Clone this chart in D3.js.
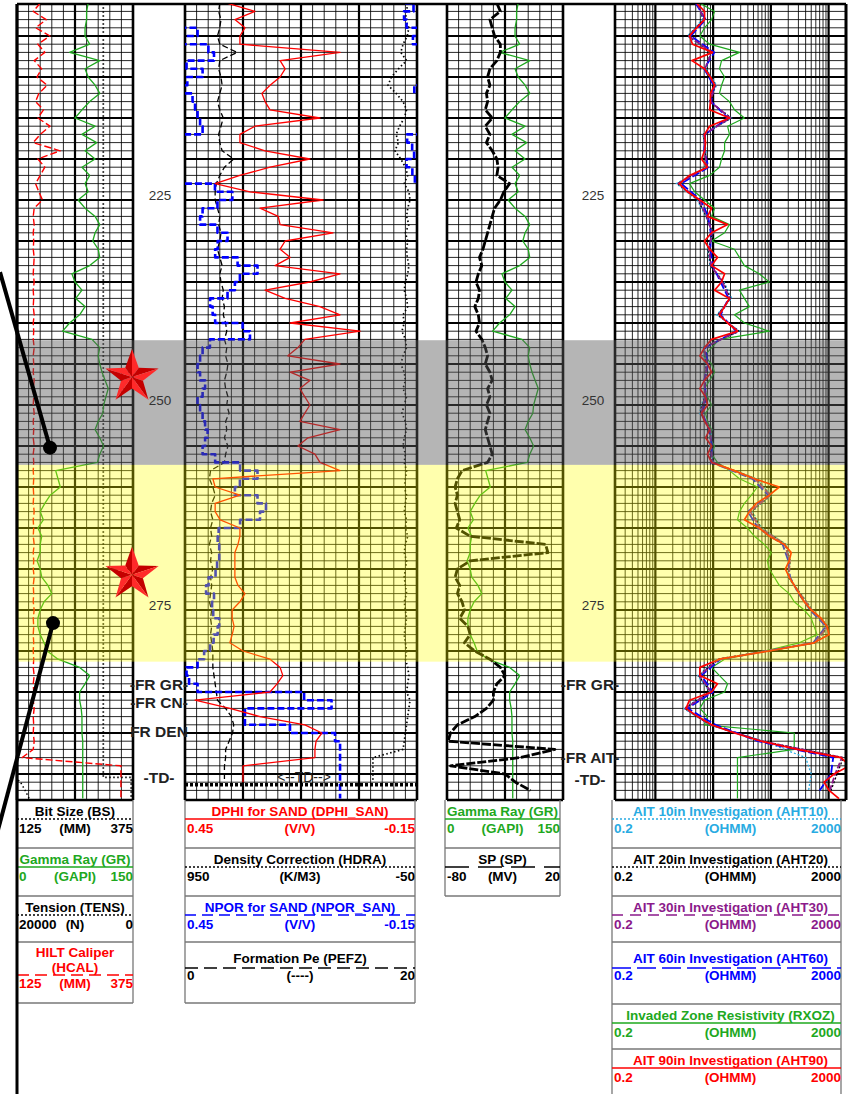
<!DOCTYPE html>
<html><head><meta charset="utf-8">
<script src="https://cdn.jsdelivr.net/npm/d3@7/dist/d3.min.js"></script>
<style>html,body{margin:0;padding:0;background:#fff;}svg{display:block;font-family:"Liberation Sans",Arial,sans-serif;}</style>
</head><body>
<svg id="chart" width="848" height="1094"></svg>
<script>
// ---------------- DATA ----------------
const depths=[201,202,203,204,205,206,207,208,209,210,211,212,213,214,215,216,217,218,219,220,221,222,223,224,225,226,227,228,229,230,231,232,233,234,235,236,237,238,239,240,241,242,243,244,245,246,247,248,249,250,251,252,253,254,255,256,257,258,259,260,261,262,263,264,265,266,267,268,269,270,271,272,273,274,275,276,277,278,279,280,281,282,283,284,285,286,287,288,289,290,291,292,293,294,295,296,297,298];
const depths2=[201,203,205,207,209,211,213,215,217,219,221,223,225,227,229,231,233,235,237,239,241,243,245,247,249,251,253,255,257,259,261,263,265,267,269,271,273,275,277,279,281,283,285,287,289,291,293,295,297];
const GR=[92,90,90,88,88,94,68,107,88,92, 101,107,94,84,75,101,84,103,88,101, 84,94,88,92,79,88,101,107,101,98, 105,107,94,71,75,84,76,88,81,68, 59,97,107,105,107,110,114,118,115,112, 111,105,101,107,112,107,104,50,53,56, 43,36,30,34,27,32,30,30,26,30, 32,40,45,35,30,27,27,30,35,39, 53,81,94,88,81,81,83,84,84,84, 85,85,85,85,85,85,85,85];
const DPHI_SAN=[.341,.269,.321,.295,.308,.308,.049,.204,.191,.204, .230,.251,.243,.230,.101,.269,.308,.308,.243,.127, .230,.308,.372,.282,.093,.256,.209,.204,.067,.191, .204,.178,.217,.049,.127,.243,.191,.101,.049,.178, -.003,.140,.158,.184,.049,.178,.127,.153,.140,.127, .140,.153,.049,.132,.158,.114,.101,.049,.378,.372, .308,.372,.372,.359,.308,.308,.313,.321,.321,.321, .321,.313,.295,.308,.328,.328,.323,.328,.334,.300, .230,.204,.197,.212,.230,.424,.334,.256,.140,.096, .111,.114,.114,.300,.300,.300,null,null];
const NPOR_SAN=[.481,.437,.530,.424,.411,.510,.269,.481,.411,.398, .490,.424,.437,.411,.424,.398,.411,.540,.385,.530, .424,.500,.411,.334,.321,.411,.398,.424,.308,.372, .359,.385,.243,.282,.334,.308,.372,.398,.359,.385, .217,.347,.424,.385,.437,.398,.424,.372,.437,.398, .424,.385,.411,.372,.424,.385,.359,.256,.269,.347, .295,.230,.251,.261,.354,.372,.359,.364,.359,.375, .367,.411,.380,.370,.390,.364,.359,.372,.380,.390, .411,.424,.468,.411,.424,-.140,.282,.308,.282,.075, .049,.049,.049,.049,.049,.049,.049,.049];
const PEFZ=[3.0,2.9,3.1,3.0,2.8,3.0,4.5,3.0,2.9,3.1, 3.2,3.0,2.8,3.0,3.3,3.1,2.9,3.0,3.2,4.2, 3.4,3.0,2.7,2.6,2.6,2.8,3.0,2.9,3.1,3.0, 2.8,3.0,3.2,3.0,3.1,3.3,3.2,3.4,3.3,3.5, 3.6,3.4,3.6,3.5,3.7,3.6,3.4,3.5,3.7,3.6, 3.8,3.5,3.6,3.4,3.7,3.5,3.4,2.2,2.1,2.4, 2.6,2.3,2.2,2.4,2.2,2.3,2.1,2.3,2.2,2.4, 2.2,2.3,2.2,2.1,2.3,2.2,2.3,2.2,2.3,2.4, 2.4,2.4,2.5,2.6,2.7,2.8,3.5,4.0,4.2,4.1, 3.8,3.5,3.5,3.4,3.4,3.4,null,null];
const HDRA=[-10,-5,0,-15,-8,10,20,-5,30,60, 75,40,10,-5,5,25,40,30,45,20, 0,-10,5,-15,-20,-10,-5,-15,0,-10, -5,-8,-15,-10,0,5,-5,-10,10,5, 15,0,-5,10,20,5,0,10,-5,5, 15,0,-5,5,10,0,5,-5,0,5, -5,0,5,-5,0,-10,0,5,-5,0, 5,0,-5,5,0,-5,0,5,0,-5, 0,-10,-15,-10,-5,-20,-15,-10,-5,0, 5,10,140,140,140,140,null,null];
const SP=[-37,-34,-43,-41,-39,-34,-34,-37,-43,-45, -43,-46,-45,-47,-41,-47,-43,-46,-41,-37, -36,-37,-26,-31,-34,-39,-41,-43,-45,-47, -49,-52,-50,-53,-55,-52,-53,-56,-53,-52, -55,-50,-47,-45,-47,-43,-41,-45,-43,-46, -43,-45,-47,-45,-43,-41,-45,-67,-71,-73, -71,-73,-71,-69,-72,-60,5,7,-60,-71, -73,-69,-71,-67,-65,-69,-62,-60,-65,-56, -43,-34,-30,-37,-40,-40,-46,-56,-71,-77, -79,13,-17,-77,-30,-21,-8,null];
const HCAL=[175,160,188,165,196,170,185,162,178,168, 190,172,165,182,170,196,175,160,218,170, 185,175,165,172,180,162,160,162,160,161, 160,162,161,160,162,160,161,160,162,160, 161,160,162,160,161,160,162,160,161,160, 162,160,161,160,162,160,161,160,161,160, 161,160,162,160,161,160,162,160,161,160, 162,160,161,160,162,160,161,160,161,160, 161,160,162,160,161,160,162,160,161,160, 162,160,136,349,349,349,349,349];
const bsDepth=[201,295.4,295.4,298.2];
const BS=[311,311,371,371];
const tensDepth=[201,295,296,297,298];
const TENS=[21000,21000,19400,18600,17900];
const AHT90=[5.2,7.1,7.1,5.2,3.9,4.4,9.8,4.3,7.1,9.0, 10.6,9.0,9.0,8.7,19.2,8.7,7.1,7.4,7.1,6.3, 8.0,3.9,2.6,3.6,5.9,9.4,8.0,17.8,9.4,7.1, 8.7,11.9,9.4,15.8,14.0,10.6,19.2,15.8,12.9,17.8, 26.4,9.4,7.1,5.9,8.0,9.4,7.1,5.9,7.4,8.0, 6.3,7.1,8.7,7.4,9.4,8.0,9.4,23.4,51.9,140, 94,56,42.5,34.8,63,94,171,225,208,178, 208,254,310,378,499,741,940,1019,561,94, 12.9,5.9,5.9,11.9,9.4,3.9,3.4,5.4,9.4,23.4, 68,286,1641,2300,1242,836,1019,1514];
const RXOZ=[5.9,10.6,9.4,7.1,5.9,8.7,28.6,14,12.9,15.8, 14,12.9,19.2,23.4,34.8,17.8,19.2,15.8,15.8,14, 12.9,8.7,3.9,4.8,7.1,10.6,9.4,19.2,15.8,9.4, 23.4,28.6,34.8,63,94,28.6,34.8,42.5,23.4,34.8, 94,12.9,9.4,7.1,9.4,10.6,8.7,7.1,8.0,9.4, 7.4,8.0,9.4,8.7,10.6,9.4,11.9,19.2,28.6,58.5, 46,34.8,28.6,26.4,39.3,51.9,77,102,87,94, 115,140,208,254,378,499,561,632,310,77, 15.8,9.4,12.9,17.8,15.8,7.1,5.9,8.0,7.1,254, 254,254,26.4,26.4,26.4,26.4,26.4,26.4];
const AHT60=[5.0,7.4,4.1,10.5,7.0,10.2,9.3,18,7.3,7.0, 8.3,2.8,6.1,8.2,9.1,9.0,9.8,13.5,18.5,13.5, 25,7.3,8.2,7.0,7.6,6.5,8.5,9.6,9.2,48, 90,40,60,160,200,215,300,480,900,540, 13.5,6.2,10,3.6,11,60,1200,1100,700];
const AHT30=[5.3,7.0,3.8,9.5,7.2,10.8,8.9,19.8,7.0,7.2, 7.8,2.5,5.7,7.8,9.6,8.5,9.2,14.5,19.5,12.5, 27,7.0,7.8,7.2,7.3,6.2,8.9,9.2,9.6,53, 98,44,65,175,212,205,318,510,960,575, 12.5,5.8,9.2,3.3,9.0,70,1700,1300,1050];
const AHT20=[5.4,6.8,3.7,9.2,7.4,11,8.7,20.5,6.8,7.4, 7.6,2.4,5.5,7.6,9.8,8.3,9.0,15,20,12, 28,6.8,7.6,7.4,7.1,6.0,9.2,9.0,9.8,55, 100,46,68,180,215,200,325,520,980,590, 12,5.6,9,3.2,8.8,72,1800,1400,1100];
const AHT10=[5.6,6.5,3.6,9.0,7.6,11.5,8.5,21,6.6,7.6, 7.4,2.3,5.3,7.4,10,8.1,8.8,15.5,21,11.5, 29,6.6,7.4,7.6,6.9,5.8,9.5,8.8,10,57, 105,48,70,185,218,195,330,530,1000,600, 11.5,5.4,8.8,3.1,8.6,75,400,500,450];
const depthLabels=[225,250,275];
const zoneTop=[242.1,257.3], zoneBottom=[257.3,281.3];
const leftMarkers=['-FR GR-','-FR CN-','FR DEN','-TD-'], leftMarkerDepth=[284.76,286.95,290.49,296.1];
const rightMarkers=['-FR GR-','-FR AIT-','-TD-'], rightMarkerDepth=[284.76,293.66,296.34];
const tdLineDepth=296.3;
const starDepth=[246.6,270.7];
const pinDepth=[255.2,276.6], pinTailDepth=[233.8,302.3];
// legend (header) content
const legTitle=[['Bit Size (BS)'],['Gamma Ray (GR)'],['Tension (TENS)'],['HILT Caliper','(HCAL)'],
 ['DPHI for SAND (DPHI_SAN)'],['Density Correction (HDRA)'],['NPOR for SAND (NPOR_SAN)'],['Formation Pe (PEFZ)'],
 ['Gamma Ray (GR)'],['SP (SP)'],
 ['AIT 10in Investigation (AHT10)'],['AIT 20in Investigation (AHT20)'],['AIT 30in Investigation (AHT30)'],['AIT 60in Investigation (AHT60)'],['Invaded Zone Resistivity (RXOZ)'],['AIT 90in Investigation (AHT90)']];
const legUnit=['(MM)','(GAPI)','(N)','(MM)','(V/V)','(K/M3)','(V/V)','(----)','(GAPI)','(MV)','(OHMM)','(OHMM)','(OHMM)','(OHMM)','(OHMM)','(OHMM)'];
const legLo=['125','0','20000','125','0.45','950','0.45','0','0','-80','0.2','0.2','0.2','0.2','0.2','0.2'];
const legHi=['375','150','0','375','-0.15','-50','-0.15','20','150','20','2000','2000','2000','2000','2000','2000'];
const legTrack=[0,0,0,0,1,1,1,1,2,2,3,3,3,3,3,3];

// ---------------- LAYOUT / STYLE ----------------
const C={green:'#1ea81e',red:'#ff0000',blue:'#0000ff',lblue:'#29abe2',purple:'#8b1a8b',black:'#000'};
const legStyle=[[C.black,'2,2'],[C.green,null],[C.black,'2,2'],[C.red,'12,6'],[C.red,null],[C.black,'2,2'],[C.blue,'11,6'],[C.black,'13,6'],
 [C.green,null],[C.black,'24,9'],[C.lblue,'2,2'],[C.black,'2,2'],[C.purple,'11,7'],[C.blue,'19,6'],[C.green,null],[C.red,null]];
const svg=d3.select('#chart');
const yS=d3.scaleLinear().domain([225,275]).range([200,610]);
const TOP=4,BOT=800;
const T=[[17,133],[185,417],[447,563],[615,846]];
const sGR1=d3.scaleLinear().domain([0,150]).range(T[0]);
const sMM=d3.scaleLinear().domain([125,375]).range(T[0]);
const sTENS=d3.scaleLinear().domain([20000,0]).range(T[0]);
const sPor=d3.scaleLinear().domain([0.45,-0.15]).range(T[1]);
const sHDRA=d3.scaleLinear().domain([950,-50]).range(T[1]);
const sPE=d3.scaleLinear().domain([0,20]).range(T[1]);
const sGR3=d3.scaleLinear().domain([0,150]).range(T[2]);
const sSP=d3.scaleLinear().domain([-80,20]).range(T[2]);
const sRes=d3.scaleLog().domain([0.2,2000]).range(T[3]);

const defs=svg.append('defs');
T.forEach((t,i)=>defs.append('clipPath').attr('id','clip'+i).append('rect').attr('x',t[0]).attr('y',TOP).attr('width',t[1]-t[0]).attr('height',BOT-TOP));

// grid
const grid=svg.append('g');
function vline(x,w){grid.append('line').attr('x1',x).attr('x2',x).attr('y1',TOP).attr('y2',BOT).attr('stroke','#000').attr('stroke-width',w);}
function linGrid(t,n,maj){for(let i=0;i<=n;i++){const x=t[0]+(t[1]-t[0])*i/n;vline(x,(i===0||i===n)?2.6:(i%maj===0?2.2:0.85));}}
const gridDepths=d3.range(202,298);
function hGrid(t){gridDepths.forEach(d=>{grid.append('line').attr('x1',t[0]).attr('x2',t[1]).attr('y1',yS(d)).attr('y2',yS(d)).attr('stroke','#000').attr('stroke-width',d%5===0?2.2:0.85);});}
T.forEach(hGrid);
linGrid(T[0],10,5);linGrid(T[1],20,5);linGrid(T[2],10,5);
const logTicks=[];for(let e=-1;e<=3;e++)for(let m=1;m<=9;m++){const v=m*Math.pow(10,e);if(v>0.199&&v<2001)logTicks.push([v,m]);}
logTicks.forEach(([v,m])=>{const edge=(Math.abs(v-0.2)<1e-6||Math.abs(v-2000)<1e-6);vline(sRes(v),edge?2.6:(m===1?2.2:0.85));});
grid.append('line').attr('x1',17).attr('x2',846).attr('y1',TOP).attr('y2',TOP).attr('stroke','#000').attr('stroke-width',2.6);
T.forEach(t=>grid.append('line').attr('x1',t[0]).attr('x2',t[1]).attr('y1',BOT).attr('y2',BOT).attr('stroke','#000').attr('stroke-width',2.6));

// curves
function curve(ti,dArr,vals,fx,color,w,dash,cv){
  const g=svg.append('g').attr('clip-path','url(#clip'+ti+')');
  const line=d3.line().defined((d,i)=>vals[i]!=null).x((d,i)=>fx(vals[i])).y(d=>yS(d)).curve(cv||d3.curveLinear);
  g.append('path').datum(dArr).attr('d',line).attr('fill','none').attr('stroke',color).attr('stroke-width',w).attr('stroke-dasharray',dash||null).attr('stroke-linejoin','round');
}
// track 1
curve(0,tensDepth,TENS,sTENS,C.black,1.5,'1.5,2.5');
curve(0,bsDepth,BS,sMM,C.black,1.7,'1.5,2.5');
curve(0,depths,HCAL,sMM,C.red,1.4,'7,3');
curve(0,depths,GR,sGR1,C.green,1.3);
// track 2
curve(1,depths,HDRA,sHDRA,C.black,1.7,'1.5,2.5');
curve(1,depths,PEFZ,sPE,C.black,1.3,'6,3');
curve(1,depths,NPOR_SAN,sPor,C.blue,2.6,'7,3',d3.curveStep);
curve(1,depths,NPOR_SAN,v=>sPor(v-0.6),C.blue,2.6,'7,3',d3.curveStep);
curve(1,depths,DPHI_SAN,sPor,C.red,1.3);
// track 3
curve(2,depths,GR,sGR3,C.green,1.3);
curve(2,depths,SP,sSP,C.black,2.8,'9,2');
// track 4
curve(3,depths2,AHT10,sRes,C.lblue,1.3,'2,2');
curve(3,depths2,AHT20,sRes,C.black,1.3,'2,2');
curve(3,depths,RXOZ,sRes,C.green,1.2);
curve(3,depths2,AHT60,sRes,C.blue,1.8,'8,3');
curve(3,depths2,AHT30,sRes,C.purple,1.8,'6,2');
curve(3,depths,AHT90,sRes,C.red,1.7);

// TD line & text
svg.append('line').attr('x1',T[1][0]).attr('x2',T[1][1]).attr('y1',yS(tdLineDepth)).attr('y2',yS(tdLineDepth)).attr('stroke','#000').attr('stroke-width',3.5).attr('stroke-dasharray','3,2');
svg.append('text').attr('x',304).attr('y',yS(tdLineDepth)-3).attr('text-anchor','middle').attr('font-size',14).attr('fill','#222').text('<--TD-->');

// zones
const zoneFill=['rgba(90,90,90,0.45)','rgba(255,255,0,0.32)'];
zoneTop.forEach((d,i)=>svg.append('rect').attr('x',17).attr('y',yS(d)).attr('width',846-17).attr('height',yS(zoneBottom[i])-yS(d)).attr('fill',zoneFill[i]));

// depth labels
depthLabels.forEach(d=>{[160,593].forEach(x=>svg.append('text').attr('x',x).attr('y',yS(d)-0.5).attr('text-anchor','middle').attr('font-size',13.5).attr('fill','#333').text(d));});
leftMarkers.forEach((t,i)=>svg.append('text').attr('x',159).attr('y',yS(leftMarkerDepth[i])).attr('text-anchor','middle').attr('font-size',15.5).attr('font-weight','bold').attr('fill','#222').text(t));
rightMarkers.forEach((t,i)=>svg.append('text').attr('x',590).attr('y',yS(rightMarkerDepth[i])).attr('text-anchor','middle').attr('font-size',15.5).attr('font-weight','bold').attr('fill','#222').text(t));

// stars
function star(cx,cy,R,r){
  const g=svg.append('g');
  for(let k=0;k<5;k++){
    const a0=(-90+72*k)*Math.PI/180,a1=a0+36*Math.PI/180,a2=a0+72*Math.PI/180;
    const o0=[cx+R*Math.cos(a0),cy+R*Math.sin(a0)],i1=[cx+r*Math.cos(a1),cy+r*Math.sin(a1)],o2=[cx+R*Math.cos(a2),cy+R*Math.sin(a2)];
    g.append('path').attr('d',`M${cx},${cy}L${o0}L${i1}Z`).attr('fill','#ff2a2a');
    g.append('path').attr('d',`M${cx},${cy}L${i1}L${o2}Z`).attr('fill','#c40000');
  }
}
starDepth.forEach(d=>star(132,yS(d),28,11.5));

// pins
pinDepth.forEach((d,i)=>{
  const px=[50,53][i],tx=[0,-3][i];
  svg.append('line').attr('x1',tx).attr('y1',yS(pinTailDepth[i])).attr('x2',px).attr('y2',yS(d)).attr('stroke','#000').attr('stroke-width',4);
  svg.append('circle').attr('cx',px).attr('cy',yS(d)).attr('r',7).attr('fill','#000');
});

// header
const hdrX=[[17,133],[185,415],[445,560],[612,841]];
const hdrRows=[[800,848,896,942,1003],[800,848,896,942,1003],[800,848,896],[800,848,896,942,1004,1049,1094]];
const H=svg.append('g');
hdrX.forEach((x,ti)=>{
  const rows=hdrRows[ti];
  const last=rows[rows.length-1];
  H.append('line').attr('x1',x[0]).attr('x2',x[0]).attr('y1',BOT).attr('y2',last).attr('stroke','#777').attr('stroke-width',1.3);
  H.append('line').attr('x1',x[1]).attr('x2',x[1]).attr('y1',BOT).attr('y2',last).attr('stroke','#777').attr('stroke-width',1.3);
  rows.slice(1).forEach(y=>{if(y<1094)H.append('line').attr('x1',x[0]).attr('x2',x[1]).attr('y1',y).attr('y2',y).attr('stroke','#777').attr('stroke-width',1.3);});
});
const rowIdx=[0,0,0,0];
legTitle.forEach((tl,i)=>{
  const ti=legTrack[i],x=hdrX[ti],r=rowIdx[ti]++;
  const top=hdrRows[ti][r],h=hdrRows[ti][r+1]-top;
  const [col,dash]=legStyle[i];
  let tY,lY,vY;
  if(tl.length>1){tY=[top+15,top+30];lY=top+33;vY=top+46;}
  else if(h>55){tY=[top+21];lY=top+26;vY=top+38;}
  else{tY=[top+16];lY=top+19;vY=top+33;}
  const cx=(x[0]+x[1])/2;
  H.append('line').attr('x1',x[0]).attr('x2',x[1]).attr('y1',lY).attr('y2',lY).attr('stroke',col).attr('stroke-width',1.6).attr('stroke-dasharray',dash);
  tl.forEach((s,k)=>H.append('text').attr('x',cx+(ti===3?4:0)).attr('y',tY[k]).attr('text-anchor','middle').attr('font-size',13.5).attr('font-weight','bold').attr('fill',col).text(s));
  H.append('text').attr('x',x[0]+2).attr('y',vY).attr('font-size',13.5).attr('font-weight','bold').attr('fill',col).text(legLo[i]);
  H.append('text').attr('x',cx+(ti===3?4:0)).attr('y',vY).attr('text-anchor','middle').attr('font-size',13.5).attr('font-weight','bold').attr('fill',col).text(legUnit[i]);
  H.append('text').attr('x',x[1]).attr('y',vY).attr('text-anchor','end').attr('font-size',13.5).attr('font-weight','bold').attr('fill',col).text(legHi[i]);
});
// left thick border
svg.append('line').attr('x1',17).attr('x2',17).attr('y1',TOP).attr('y2',1094).attr('stroke','#000').attr('stroke-width',3);
svg.append('line').attr('x1',846).attr('x2',846).attr('y1',TOP).attr('y2',BOT).attr('stroke','#000').attr('stroke-width',2.6);
</script></body></html>
